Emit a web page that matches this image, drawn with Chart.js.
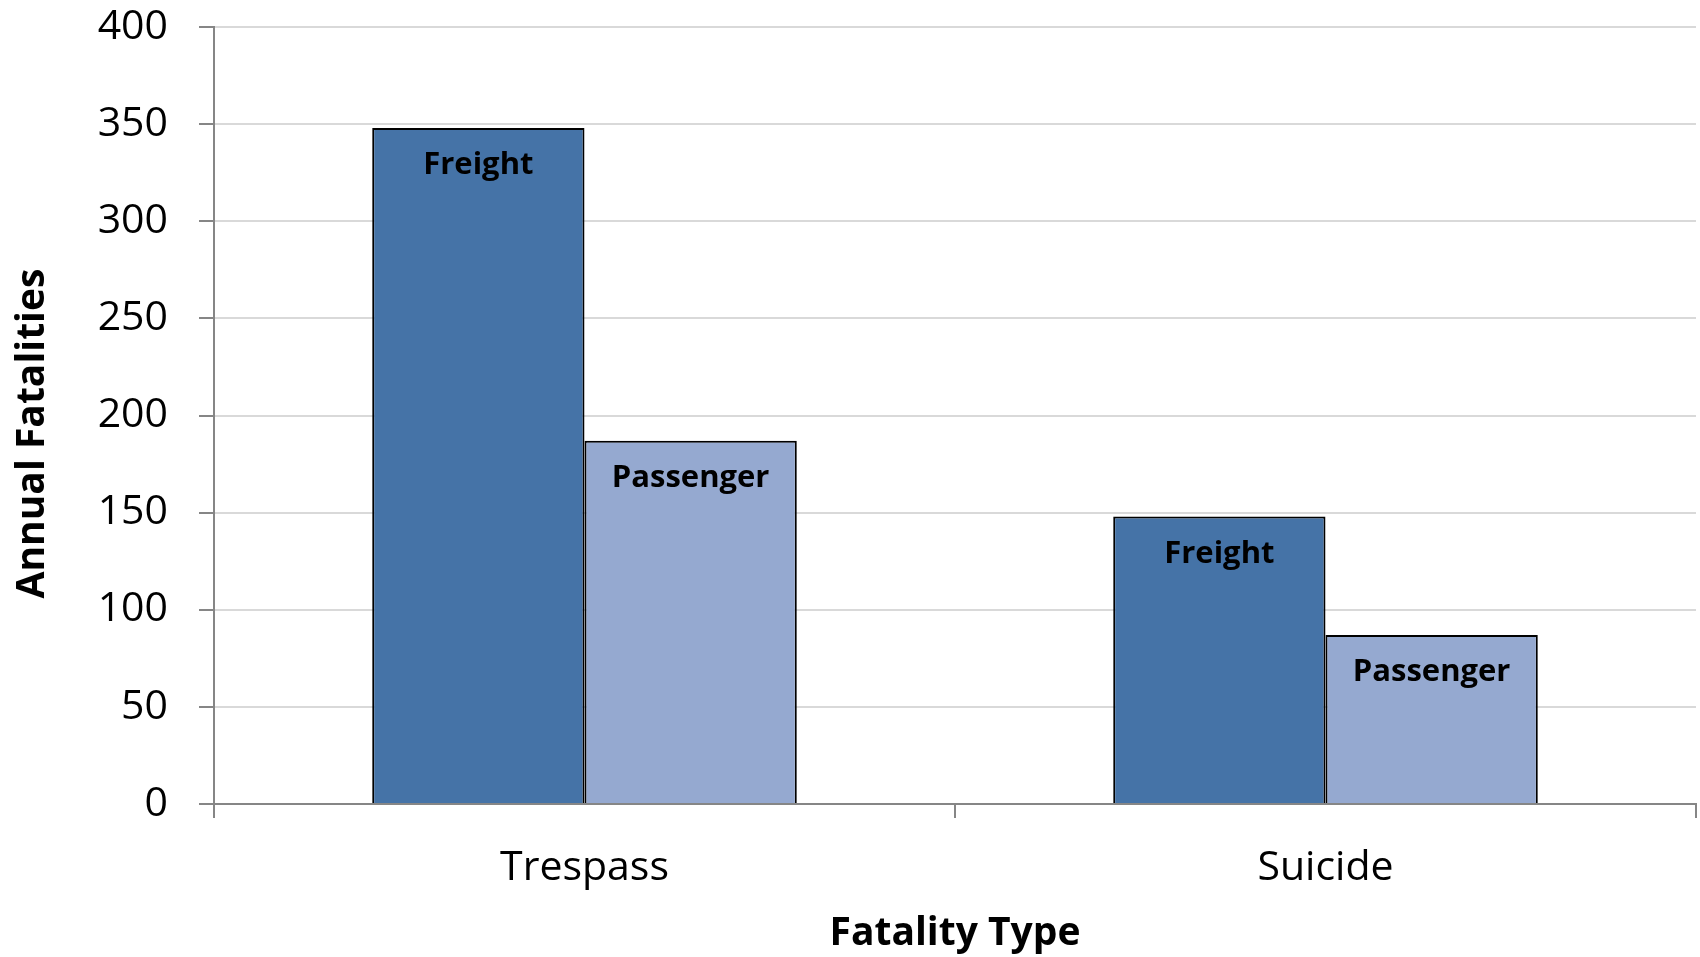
<!DOCTYPE html>
<html>
<head>
<meta charset="utf-8">
<script src="https://cdn.jsdelivr.net/npm/chart.js@4"></script>
<style>
  html, body { margin: 0; padding: 0; background: #fff; }
  #wrap { width: 1700px; height: 957px; }
</style>
</head>
<body>
<div id="wrap"><canvas id="chart" width="1700" height="957"></canvas></div>
<script>
// data
const categories = ['Trespass', 'Suicide'];
const seriesNames = ['Freight', 'Passenger'];
const freightValues = [348, 148];
const passengerValues = [187, 87];
const yTicks = [0, 50, 100, 150, 200, 250, 300, 350, 400];
const yTitle = 'Annual Fatalities';

const FONT = "'Open Sans', 'DejaVu Sans', sans-serif";
const AXIS_GREY = '#868686';

// writes the series name inside the top of each bar
const barNames = {
  id: 'barNames',
  afterDatasetsDraw(chart) {
    const ctx = chart.ctx;
    ctx.save();
    ctx.font = 'bold 31px ' + FONT;
    ctx.fillStyle = '#000';
    ctx.textAlign = 'center';
    ctx.textBaseline = 'top';
    chart.data.datasets.forEach((ds, i) => {
      chart.getDatasetMeta(i).data.forEach(bar => {
        ctx.fillText(ds.label, bar.x, bar.y + 22);
      });
    });
    ctx.restore();
  }
};

// y title sits a little below the plot's middle in the original, so draw it by hand
const yTitlePlugin = {
  id: 'yTitle',
  afterDraw(chart) {
    const ctx = chart.ctx;
    const area = chart.chartArea;
    ctx.save();
    ctx.translate(33, (area.top + area.bottom) / 2 + 18);
    ctx.rotate(-Math.PI / 2);
    ctx.font = 'bold 39px ' + FONT;
    ctx.fillStyle = '#000';
    ctx.textAlign = 'center';
    ctx.textBaseline = 'middle';
    ctx.fillText(yTitle, 0, 0);
    ctx.restore();
  }
};

new Chart(document.getElementById('chart'), {
  type: 'bar',
  data: {
    labels: categories,
    datasets: [
      { label: seriesNames[0], data: freightValues, backgroundColor: '#4573A7',
        borderColor: '#000', borderWidth: 2, borderSkipped: 'bottom' },
      { label: seriesNames[1], data: passengerValues, backgroundColor: '#95A9D0',
        borderColor: '#000', borderWidth: 2, borderSkipped: 'bottom' }
    ]
  },
  options: {
    responsive: false,
    animation: false,
    layout: { padding: { top: 27, right: 4, bottom: 0, left: 0 } },
    plugins: { legend: { display: false }, tooltip: { enabled: false } },
    datasets: { bar: { barPercentage: 1, categoryPercentage: 0.573 } },
    scales: {
      x: {
        offset: true,
        grid: { offset: true, drawOnChartArea: false, tickLength: 14, tickColor: AXIS_GREY, lineWidth: 2 },
        border: { color: AXIS_GREY, width: 2 },
        ticks: { color: '#000', font: { family: FONT, size: 41 }, padding: 26 },
        title: { display: true, text: 'Fatality Type', color: '#000',
                 font: { family: FONT, size: 39, weight: 'bold' }, padding: { top: 10, bottom: 0 } },
        afterFit(scale) { scale.height = 153; scale.paddingLeft = 0; scale.paddingRight = 0; }
      },
      y: {
        min: 0, max: 400,
        afterBuildTicks(scale) { scale.ticks = yTicks.map(v => ({ value: v })); },
        grid: { color: '#D9D9D9', lineWidth: 2, tickLength: 15, tickColor: AXIS_GREY },
        border: { color: AXIS_GREY, width: 2 },
        ticks: { color: '#000', font: { family: FONT, size: 41 }, padding: 31 },
        afterFit(scale) { scale.width = 214; scale.paddingTop = 0; scale.paddingBottom = 0; }
      }
    }
  },
  plugins: [barNames, yTitlePlugin]
});
</script>
</body>
</html>
